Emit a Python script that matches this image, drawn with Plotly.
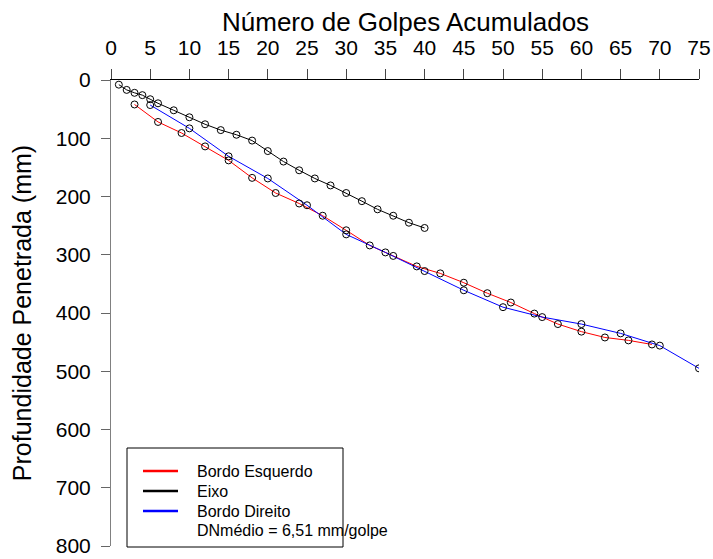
import plotly.graph_objects as go

# ---- data ----
esq_golpes = [3, 6, 9, 12, 15, 18, 21, 24, 27, 30, 33, 36, 39, 42, 45, 48, 51, 54, 57, 60, 63, 66, 69]
esq_prof = [42, 72, 91, 114, 138, 168, 194, 212, 233, 258, 284, 302, 320, 332, 348, 366, 382, 401, 419, 432, 442, 447, 454]

eixo_golpes = [1, 2, 3, 4, 5, 6, 8, 10, 12, 14, 16, 18, 20, 22, 24, 26, 28, 30, 32, 34, 36, 38, 40]
eixo_prof = [8, 17, 22, 26, 33, 40, 52, 64, 76, 86, 94, 104, 122, 140, 155, 169, 181, 194, 208, 222, 233, 245, 254]

dir_golpes = [5, 10, 15, 20, 25, 30, 35, 40, 45, 50, 55, 60, 65, 70, 75]
dir_prof = [43, 83, 131, 169, 215, 265, 296, 328, 361, 390, 407, 419, 435, 456, 495]

series_names = ["Bordo Esquerdo", "Eixo", "Bordo Direito"]
series_colors = ["#FF0000", "#000000", "#0000FF"]
nota = "DNmédio = 6,51 mm/golpe"

x_ticks = [0, 5, 10, 15, 20, 25, 30, 35, 40, 45, 50, 55, 60, 65, 70, 75]
y_ticks = [0, 100, 200, 300, 400, 500, 600, 700, 800]

x_title = "Número de Golpes Acumulados"
y_title = "Profundidade Penetrada (mm)"

# ---- layout geometry ----
W, H = 713, 559
ML, MT, MR, MB = 111, 80, 14, 13
PW, PH = W - ML - MR, H - MT - MB
FONT = "Liberation Sans, Arial, Helvetica, sans-serif"


def px2paper_x(px):
    return (px - ML) / PW


def px2paper_y(py):
    return 1 - (py - MT) / PH


fig = go.Figure()

data = [(esq_golpes, esq_prof), (eixo_golpes, eixo_prof), (dir_golpes, dir_prof)]
order = [0, 2, 1]
for i in order:
    xs, ys = data[i]
    fig.add_trace(go.Scatter(
        x=xs, y=ys, mode="lines",
        line=dict(color=series_colors[i], width=1),
        name=series_names[i], showlegend=False, hoverinfo="skip",
    ))
for i in order:
    xs, ys = data[i]
    fig.add_trace(go.Scatter(
        x=xs, y=ys, mode="markers",
        marker=dict(symbol="circle-open", size=7, color="black", line=dict(width=1)),
        name=series_names[i], showlegend=False,
    ))

# ---- manual legend (box, line samples, texts) ----
bx0, bx1, by0, by1 = 127, 343, 448, 547
shapes = [dict(type="rect", xref="paper", yref="paper",
               x0=px2paper_x(bx0), x1=px2paper_x(bx1),
               y0=px2paper_y(by1), y1=px2paper_y(by0),
               line=dict(color="black", width=1), fillcolor="white", layer="above")]
annotations = []
row_y = [471, 491, 511, 530]
labels = series_names + [nota]
for k, lab in enumerate(labels):
    if k < 3:
        shapes.append(dict(type="line", xref="paper", yref="paper",
                           x0=px2paper_x(143), x1=px2paper_x(178),
                           y0=px2paper_y(row_y[k]), y1=px2paper_y(row_y[k]),
                           line=dict(color=series_colors[k], width=2.5), layer="above"))
    annotations.append(dict(text=lab, xref="paper", yref="paper",
                            x=px2paper_x(195), y=px2paper_y(row_y[k]),
                            xanchor="left", yanchor="middle", showarrow=False,
                            font=dict(family=FONT, size=16, color="black")))

# x-axis title (placed above the top tick labels)
annotations.append(dict(text=x_title, xref="paper", yref="paper",
                        x=0.5, y=px2paper_y(22), xanchor="center", yanchor="middle",
                        showarrow=False, font=dict(family=FONT, size=26, color="black")))

fig.update_layout(
    width=W, height=H,
    margin=dict(l=ML, r=MR, t=MT, b=MB, pad=0),
    paper_bgcolor="white", plot_bgcolor="white",
    font=dict(family=FONT, color="black"),
    showlegend=False,
    shapes=shapes, annotations=annotations,
    xaxis=dict(
        side="top", range=[0, 75], tickvals=x_ticks,
        ticktext=[str(v) for v in x_ticks],
        showgrid=False, zeroline=False, automargin=False,
        showline=True, linecolor="black", linewidth=1,
        ticks="outside", ticklen=10, tickcolor="#444444", tickwidth=1,
        tickfont=dict(family=FONT, size=21, color="black"),
        ticklabelstandoff=6,
    ),
    yaxis=dict(
        range=[800, 0], tickvals=y_ticks,
        ticktext=[str(v) for v in y_ticks],
        showgrid=False, zeroline=False, automargin=False,
        showline=True, linecolor="#808080", linewidth=1,
        ticks="outside", ticklen=9, tickcolor="#666666", tickwidth=1,
        tickfont=dict(family=FONT, size=21, color="black"),
        ticklabelstandoff=6,
        title=dict(text=y_title, font=dict(family=FONT, size=25, color="black"), standoff=17),
    ),
)

fig.write_html("out.html", config={"displayModeBar": False},
               post_script="document.body.style.margin='0';")
